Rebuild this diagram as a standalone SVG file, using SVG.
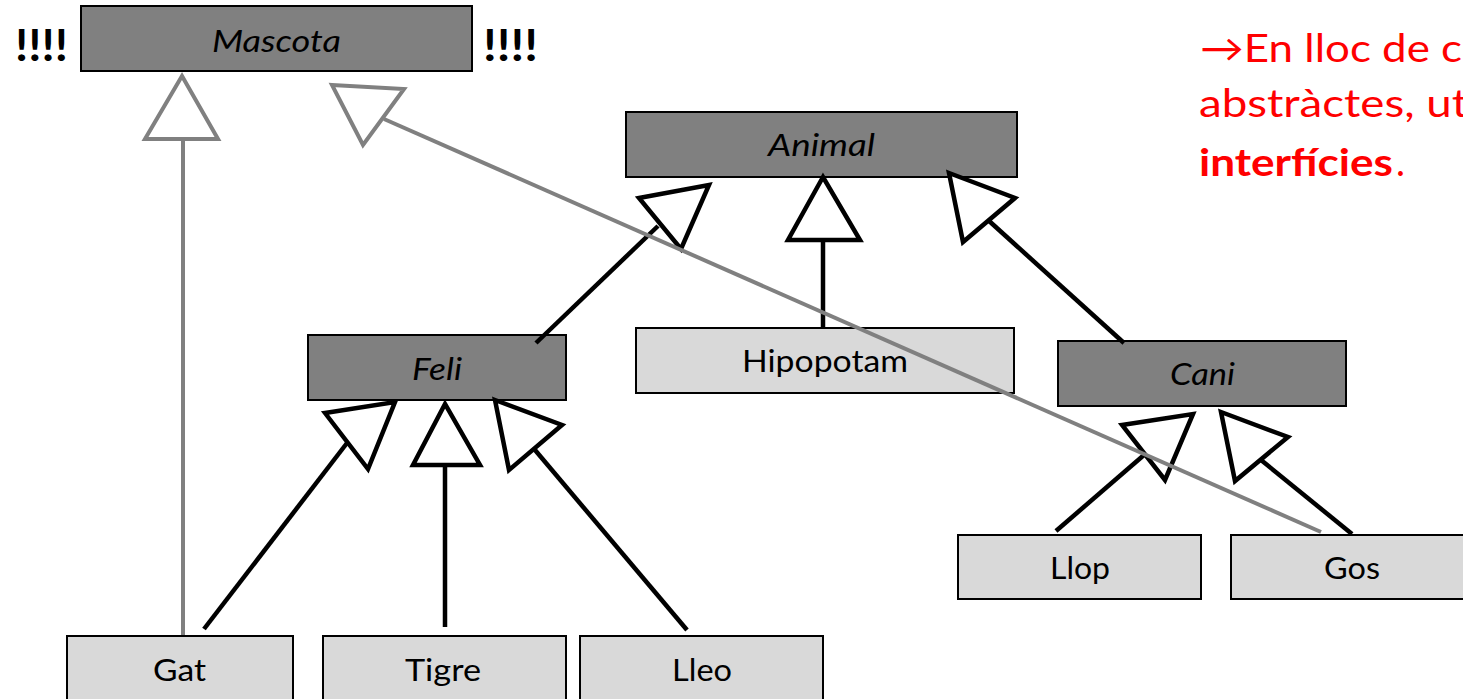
<svg xmlns="http://www.w3.org/2000/svg" width="1463" height="699" viewBox="0 0 1463 699">
  <style>
    .abs rect { fill: #808080; stroke: #000; stroke-width: 2; }
    .con rect { fill: #d9d9d9; stroke: #000; stroke-width: 2; }
    .lbl { font-family: Lato, "Open Sans", "DejaVu Sans", sans-serif; font-size: 31px; fill: #000; text-anchor: start; }
    .abs .lbl { font-style: italic; }
    .bang { font-family: Lato, "DejaVu Sans", sans-serif; font-weight: bold; font-size: 44px; fill: #000; }
    .note { font-family: Lato, "DejaVu Sans", sans-serif; font-size: 38px; fill: #ff0000; }
    .blk line { stroke: #000; stroke-width: 4.5; }
    .blk polygon { fill: #fff; stroke: #000; stroke-width: 4.5; stroke-linejoin: miter; }
    .gry line { stroke: #808080; stroke-width: 4; }
    .gry polygon { fill: #fff; stroke: #808080; stroke-width: 4; stroke-linejoin: miter; }
  </style>

  <!-- class boxes -->
  <g id="mascota" class="abs">
    <rect x="81" y="6" width="391" height="65"/>
    <text class="lbl" x="212" y="52" textLength="129" lengthAdjust="spacingAndGlyphs">Mascota</text>
  </g>
  <g id="animal" class="abs">
    <rect x="626" y="112" width="391" height="65"/>
    <text class="lbl" x="768" y="156" textLength="107" lengthAdjust="spacingAndGlyphs">Animal</text>
  </g>
  <g id="feli" class="abs">
    <rect x="308" y="335" width="258" height="65"/>
    <text class="lbl" x="412" y="380" textLength="50" lengthAdjust="spacingAndGlyphs">Feli</text>
  </g>
  <g id="cani" class="abs">
    <rect x="1058" y="341" width="288" height="65"/>
    <text class="lbl" x="1170" y="385" textLength="65" lengthAdjust="spacingAndGlyphs">Cani</text>
  </g>
  <g id="hipopotam" class="con">
    <rect x="636" y="328" width="378" height="65"/>
    <text class="lbl" x="742" y="372" textLength="166" lengthAdjust="spacingAndGlyphs">Hipopotam</text>
  </g>
  <g id="llop" class="con">
    <rect x="958" y="535" width="243" height="64"/>
    <text class="lbl" x="1050" y="579" textLength="60" lengthAdjust="spacingAndGlyphs">Llop</text>
  </g>
  <g id="gos" class="con">
    <rect x="1231" y="535" width="243" height="64"/>
    <text class="lbl" x="1324" y="579" textLength="56" lengthAdjust="spacingAndGlyphs">Gos</text>
  </g>
  <g id="gat" class="con">
    <rect x="67" y="636" width="226" height="66"/>
    <text class="lbl" x="153" y="681" textLength="53" lengthAdjust="spacingAndGlyphs">Gat</text>
  </g>
  <g id="tigre" class="con">
    <rect x="323" y="636" width="243" height="66"/>
    <text class="lbl" x="405" y="681" textLength="76" lengthAdjust="spacingAndGlyphs">Tigre</text>
  </g>
  <g id="lleo" class="con">
    <rect x="580" y="636" width="243" height="66"/>
    <text class="lbl" x="672" y="681" textLength="60" lengthAdjust="spacingAndGlyphs">Lleo</text>
  </g>

  <!-- generalization connectors -->
  <g id="connectors">
    <g class="blk">
      <!-- Feli -> Animal -->
      <line x1="536" y1="343" x2="658" y2="226"/>
      <polygon points="639,198 709,185 681,249"/>
      <!-- Hipopotam -> Animal -->
      <line x1="823" y1="328" x2="823" y2="240"/>
      <polygon points="823,177 788,240 860,240"/>
      <!-- Cani -> Animal -->
      <line x1="1124" y1="343" x2="988" y2="220"/>
      <polygon points="949,173 1015,198 963,242"/>
      <!-- Gat -> Feli -->
      <line x1="204" y1="629" x2="347" y2="443"/>
      <polygon points="325,413 395,402 368,469"/>
      <!-- Tigre -> Feli -->
      <line x1="445" y1="627" x2="445" y2="465"/>
      <polygon points="445,404 413,465 480,465"/>
      <!-- Lleo -> Feli -->
      <line x1="687" y1="630" x2="535" y2="450"/>
      <polygon points="495,400 562,425 509,470"/>
      <!-- Llop -> Cani -->
      <line x1="1056" y1="531" x2="1144" y2="455"/>
      <polygon points="1122,425 1193,414 1165,480"/>
      <!-- Gos -> Cani -->
      <line x1="1352" y1="534" x2="1261" y2="460"/>
      <polygon points="1221,412 1288,437 1235,481"/>
    </g>
    <g class="gry">
      <!-- Gat -> Mascota -->
      <line x1="183" y1="635" x2="183" y2="139"/>
      <polygon points="182,76 145,139 218,139"/>
      <!-- Gos -> Mascota -->
      <line x1="1321" y1="532" x2="384" y2="119"/>
      <polygon points="332,85 404,89 363,145"/>
    </g>
  </g>

  <!-- emphasis marks -->
  <text class="bang" x="15" y="61" textLength="53" lengthAdjust="spacingAndGlyphs">!!!!</text>
  <text class="bang" x="483" y="61" textLength="55" lengthAdjust="spacingAndGlyphs">!!!!</text>

  <!-- side note -->
  <g id="note">
    <text class="note" x="1200" y="62" textLength="262" lengthAdjust="spacingAndGlyphs">→En lloc de c</text>
    <text class="note" x="1199" y="117" textLength="269" lengthAdjust="spacingAndGlyphs">abstràctes, ut</text>
    <text class="note" x="1199" y="176"><tspan font-weight="bold" textLength="194" lengthAdjust="spacingAndGlyphs">interfícies</tspan><tspan x="1396">.</tspan></text>
  </g>
</svg>
